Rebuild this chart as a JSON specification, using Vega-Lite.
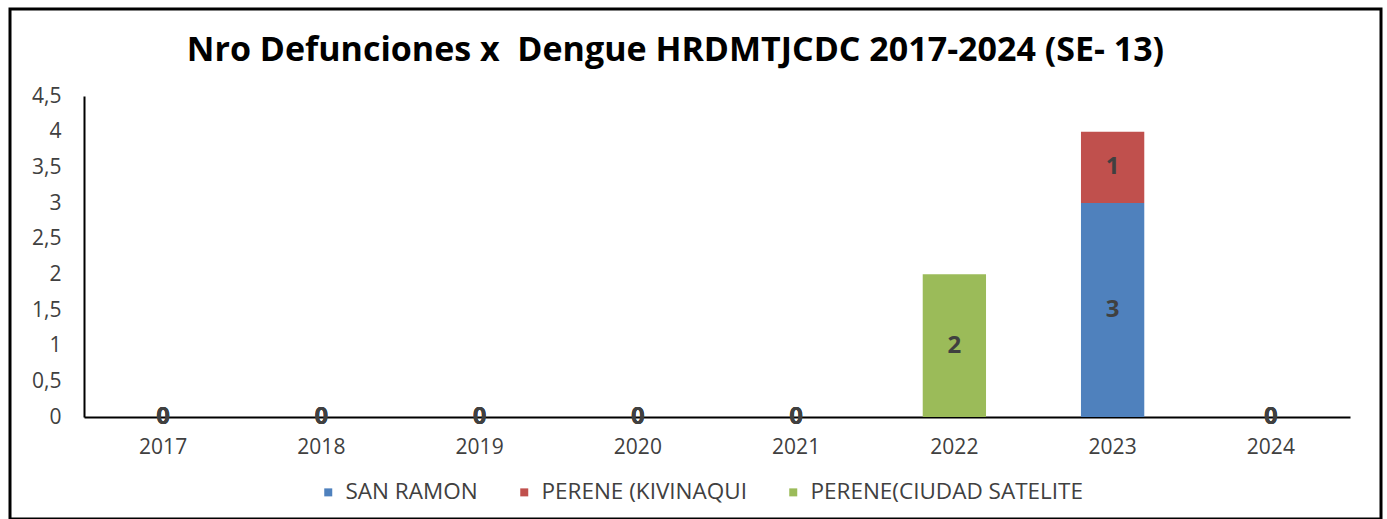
{
  "$schema": "https://vega.github.io/schema/vega-lite/v6.json",
  "width": 1371,
  "height": 510,
  "autosize": {"type": "none"},
  "padding": {"left": 10, "top": 9, "right": 6, "bottom": 0},
  "background": "white",
  "title": {
    "text": "Nro Defunciones x\u00a0 Dengue HRDMTJCDC 2017-2024 (SE- 13)",
    "frame": "group",
    "anchor": "middle",
    "orient": "top",
    "offset": -43,
    "dy": 33,
    "baseline": "middle",
    "dx": -20,
    "font": "Open Sans",
    "fontSize": 34,
    "fontWeight": "bold",
    "color": "black"
  },
  "data": {
    "values": [
      {"anio": "2017", "sede": "SAN RAMON", "i": 1, "n": 0},
      {"anio": "2017", "sede": "PERENE (KIVINAQUI", "i": 2, "n": 0},
      {"anio": "2017", "sede": "PERENE(CIUDAD SATELITE", "i": 3, "n": 0},
      {"anio": "2018", "sede": "SAN RAMON", "i": 1, "n": 0},
      {"anio": "2018", "sede": "PERENE (KIVINAQUI", "i": 2, "n": 0},
      {"anio": "2018", "sede": "PERENE(CIUDAD SATELITE", "i": 3, "n": 0},
      {"anio": "2019", "sede": "SAN RAMON", "i": 1, "n": 0},
      {"anio": "2019", "sede": "PERENE (KIVINAQUI", "i": 2, "n": 0},
      {"anio": "2019", "sede": "PERENE(CIUDAD SATELITE", "i": 3, "n": 0},
      {"anio": "2020", "sede": "SAN RAMON", "i": 1, "n": 0},
      {"anio": "2020", "sede": "PERENE (KIVINAQUI", "i": 2, "n": 0},
      {"anio": "2020", "sede": "PERENE(CIUDAD SATELITE", "i": 3, "n": 0},
      {"anio": "2021", "sede": "SAN RAMON", "i": 1, "n": 0},
      {"anio": "2021", "sede": "PERENE (KIVINAQUI", "i": 2, "n": 0},
      {"anio": "2021", "sede": "PERENE(CIUDAD SATELITE", "i": 3, "n": 0},
      {"anio": "2022", "sede": "PERENE(CIUDAD SATELITE", "i": 3, "n": 2},
      {"anio": "2023", "sede": "SAN RAMON", "i": 1, "n": 3},
      {"anio": "2023", "sede": "PERENE (KIVINAQUI", "i": 2, "n": 1},
      {"anio": "2024", "sede": "SAN RAMON", "i": 1, "n": 0},
      {"anio": "2024", "sede": "PERENE (KIVINAQUI", "i": 2, "n": 0},
      {"anio": "2024", "sede": "PERENE(CIUDAD SATELITE", "i": 3, "n": 0}
    ]
  },
  "encoding": {
    "x": {
      "field": "anio",
      "type": "ordinal",
      "scale": {"range": [74, 1340], "paddingInner": 0.6, "paddingOuter": 0.3},
      "axis": {
        "title": null,
        "offset": -102,
        "labelAngle": 0,
        "ticks": false,
        "domainColor": "black",
        "domainWidth": 2,
        "labelFont": "Open Sans",
        "labelFontSize": 21,
        "labelColor": "#404040",
        "labelPadding": 19
      }
    },
    "y": {
      "field": "n",
      "type": "quantitative",
      "stack": "zero",
      "scale": {"domain": [0, 4.5], "range": [408, 87], "nice": false},
      "axis": {
        "title": null,
        "offset": -74,
        "values": [0, 0.5, 1, 1.5, 2, 2.5, 3, 3.5, 4, 4.5],
        "labelExpr": "replace(toString(datum.value), '.', ',')",
        "grid": false,
        "ticks": false,
        "domainColor": "black",
        "domainWidth": 2,
        "labelFont": "Open Sans",
        "labelFontSize": 21,
        "labelColor": "#404040",
        "labelPadding": 23
      }
    },
    "order": {"field": "i", "type": "quantitative"}
  },
  "layer": [
    {
      "mark": {"type": "bar"},
      "encoding": {
        "color": {
          "field": "sede",
          "type": "nominal",
          "scale": {
            "domain": ["SAN RAMON", "PERENE (KIVINAQUI", "PERENE(CIUDAD SATELITE"],
            "range": ["#4F81BD", "#C0504D", "#9BBB59"]
          },
          "legend": {
            "title": null,
            "orient": "none",
            "legendX": 307,
            "legendY": 472,
            "direction": "horizontal",
            "symbolType": "square",
            "symbolSize": 64,
            "symbolStrokeWidth": 0,
            "labelFont": "Open Sans",
            "labelFontSize": 22.5,
            "labelColor": "#404040",
            "labelOffset": 6,
            "labelLimit": 500,
            "columnPadding": 35,
            "padding": 0
          }
        }
      }
    },
    {
      "mark": {"type": "text", "fontWeight": "bold", "font": "Open Sans", "fontSize": 24, "color": "#404040", "baseline": "middle"},
      "encoding": {
        "y": {"field": "n", "type": "quantitative", "stack": "zero", "bandPosition": 0.5},
        "detail": {"field": "sede"},
        "text": {"field": "n", "type": "quantitative"}
      }
    }
  ],
  "config": {"view": {"stroke": "black", "strokeWidth": 3}}
}
